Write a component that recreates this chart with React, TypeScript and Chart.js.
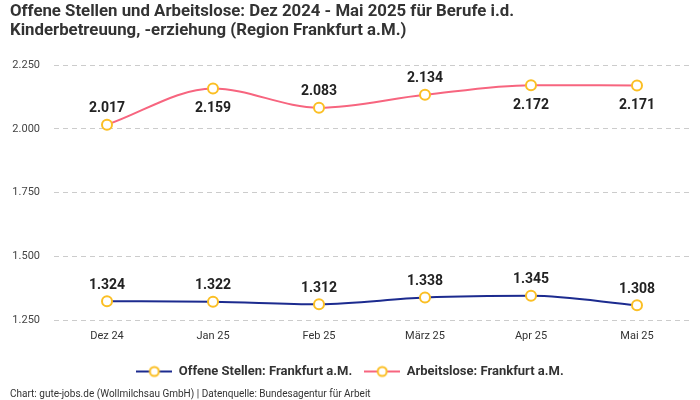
import React, { useEffect, useRef } from "react";
import { Chart, registerables } from "chart.js";

Chart.register(...registerables);

const categories = ["Dez 24", "Jan 25", "Feb 25", "März 25", "Apr 25", "Mai 25"];
const offeneStellen = [1324, 1322, 1312, 1338, 1345, 1308];
const arbeitslose = [2017, 2159, 2083, 2134, 2172, 2171];
const offenePos = ["above", "above", "above", "above", "above", "above"];
const arbeitslosePos = ["above", "below", "above", "above", "below", "below"];
const yTicks = [1250, 1500, 1750, 2000, 2250];
const titleLines = [
  "Offene Stellen und Arbeitslose: Dez 2024 - Mai 2025 für Berufe i.d.",
  "Kinderbetreuung, -erziehung (Region Frankfurt a.M.)",
];
const footerText = "Chart: gute-jobs.de (Wollmilchsau GmbH) | Datenquelle: Bundesagentur für Arbeit";

const FONT = "Roboto, 'Noto Sans', sans-serif";
const BLUE = "#1c2b8f";
const PINK = "#f7657f";
const YELLOW = "#fbbf24";

function fmt(v: number) {
  const s = String(Math.round(v));
  return s.length > 3 ? s.slice(0, s.length - 3) + "." + s.slice(s.length - 3) : s;
}

function makeLegendIcon(color: string) {
  const c = document.createElement("canvas");
  c.width = 36;
  c.height = 14;
  const ctx = c.getContext("2d")!;
  ctx.strokeStyle = color;
  ctx.lineWidth = 2;
  ctx.beginPath();
  ctx.moveTo(0, 7);
  ctx.lineTo(36, 7);
  ctx.stroke();
  ctx.beginPath();
  ctx.arc(18, 7, 4.5, 0, Math.PI * 2);
  ctx.fillStyle = "#fff";
  ctx.fill();
  ctx.strokeStyle = YELLOW;
  ctx.lineWidth = 2;
  ctx.stroke();
  return c;
}

const labelPlugin = {
  id: "valueLabels",
  afterDatasetsDraw(chart: any) {
    const ctx = chart.ctx;
    const positions = [offenePos, arbeitslosePos];
    ctx.save();
    ctx.font = `bold 14px ${FONT}`;
    ctx.fillStyle = "#222";
    ctx.textAlign = "center";
    ctx.textBaseline = "middle";
    chart.data.datasets.forEach((ds: any, di: number) => {
      const meta = chart.getDatasetMeta(di);
      meta.data.forEach((pt: any, i: number) => {
        const pos = positions[di][i];
        const y = pos === "above" ? pt.y - 16 : pt.y + 20;
        ctx.fillText(fmt(ds.data[i]), pt.x, y);
      });
    });
    ctx.restore();
  },
};

export default function App() {
  const ref = useRef<HTMLCanvasElement>(null);
  useEffect(() => {
    const icons = [makeLegendIcon(BLUE), makeLegendIcon(PINK)];
    const chart = new Chart(ref.current!, {
      type: "line",
      data: {
        labels: categories,
        datasets: [
          {
            label: "Offene Stellen: Frankfurt a.M.",
            data: offeneStellen,
            borderColor: BLUE,
            backgroundColor: BLUE,
            borderWidth: 2,
            cubicInterpolationMode: "monotone",
            pointStyle: "circle",
            pointRadius: 5,
            pointBorderWidth: 2,
            pointBorderColor: YELLOW,
            pointBackgroundColor: "#fff",
          },
          {
            label: "Arbeitslose: Frankfurt a.M.",
            data: arbeitslose,
            borderColor: PINK,
            backgroundColor: PINK,
            borderWidth: 2,
            cubicInterpolationMode: "monotone",
            pointStyle: "circle",
            pointRadius: 5,
            pointBorderWidth: 2,
            pointBorderColor: YELLOW,
            pointBackgroundColor: "#fff",
          },
        ],
      },
      options: {
        animation: false,
        responsive: true,
        maintainAspectRatio: false,
        layout: { padding: { left: 10, right: 10, top: 2, bottom: 0 } },
        scales: {
          x: {
            offset: true,
            grid: { display: false },
            border: { display: false },
            ticks: { color: "#333", font: { family: FONT, size: 11 }, padding: 2 },
            afterFit: (s: any) => {
              s.height = 33;
            },
          },
          y: {
            min: 1250,
            max: 2250,
            afterBuildTicks: (s: any) => {
              s.ticks = yTicks.map((v) => ({ value: v }));
            },
            afterFit: (s: any) => {
              s.width = 44;
            },
            grid: { color: "#cccccc", drawTicks: false },
            border: { display: false, dash: [5, 4] },
            ticks: {
              color: "#444",
              font: { family: FONT, size: 11 },
              padding: 14,
              callback: (v: any) => fmt(Number(v)),
            },
          },
        },
        plugins: {
          tooltip: { enabled: false },
          title: {
            display: true,
            text: titleLines,
            align: "start",
            color: "#333",
            font: { family: FONT, size: 16.8, weight: "bold", lineHeight: 1.14 },
            padding: { top: 0, bottom: 25 },
          },
          legend: {
            position: "bottom",
            labels: {
              usePointStyle: true,
              pointStyleWidth: 36,
              color: "#333",
              font: { family: FONT, size: 13, weight: "bold" },
              padding: 12,
              generateLabels: (c: any) =>
                c.data.datasets.map((ds: any, i: number) => ({
                  text: ds.label,
                  pointStyle: icons[i],
                  fillStyle: ds.borderColor,
                  strokeStyle: ds.borderColor,
                  lineWidth: 0,
                  fontColor: "#333",
                  datasetIndex: i,
                  hidden: false,
                })),
            },
          },
          subtitle: {
            display: true,
            position: "bottom",
            align: "start",
            text: footerText,
            color: "#333",
            font: { family: FONT, size: 10 },
            padding: { top: 0, bottom: 0 },
          },
        },
      },
      plugins: [labelPlugin],
    } as any);
    return () => chart.destroy();
  }, []);
  return (
    <div style={{ position: "absolute", left: 0, top: 0, width: 700, height: 400 }}>
      <canvas ref={ref} />
    </div>
  );
}
